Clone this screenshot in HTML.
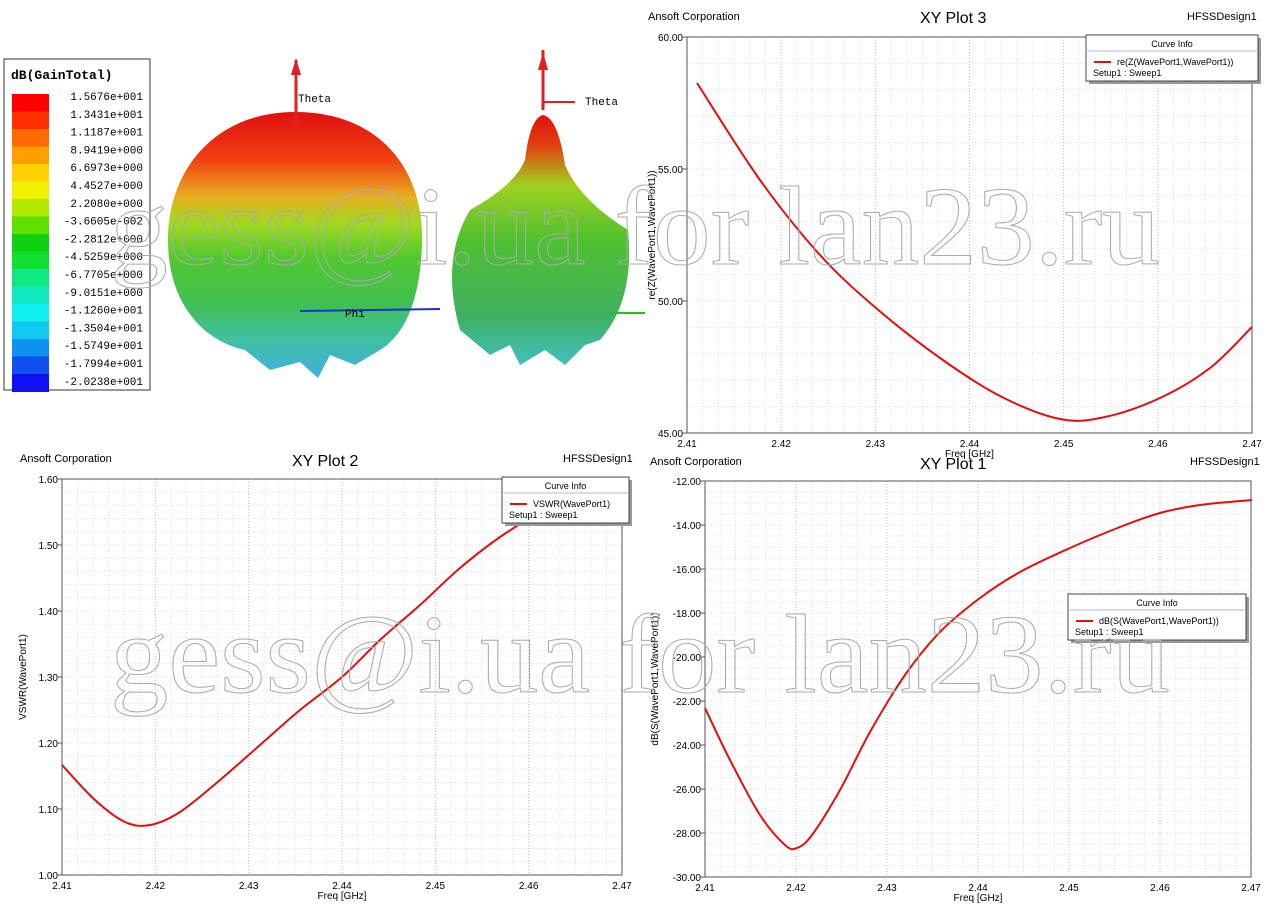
<!DOCTYPE html>
<html><head><meta charset="utf-8"><style>
body{margin:0;width:1280px;height:915px;background:#fff;overflow:hidden;font-family:"Liberation Sans",sans-serif}
svg{position:absolute;left:0;top:0}
</style></head><body>
<svg id="s" width="1280" height="915" xmlns="http://www.w3.org/2000/svg" font-family="Liberation Sans, sans-serif">
<defs>
<linearGradient id="g1" x1="0" y1="0" x2="0" y2="1">
<stop offset="0" stop-color="#e01010"/><stop offset="0.18" stop-color="#f04010"/><stop offset="0.32" stop-color="#e8b020"/>
<stop offset="0.42" stop-color="#a0d820"/><stop offset="0.55" stop-color="#50c830"/><stop offset="0.72" stop-color="#40c050"/><stop offset="0.85" stop-color="#40c0a0"/><stop offset="1" stop-color="#40b0e0"/></linearGradient>
<linearGradient id="g2" x1="0" y1="0" x2="0" y2="1">
<stop offset="0" stop-color="#e01010"/><stop offset="0.12" stop-color="#e04010"/><stop offset="0.28" stop-color="#a0d020"/>
<stop offset="0.5" stop-color="#50c030"/><stop offset="0.8" stop-color="#40b060"/><stop offset="1" stop-color="#40c0c0"/></linearGradient>
</defs>
<g id="grid"></g>
<rect x="4" y="59" width="146" height="331" fill="#fff" stroke="#333"/>
<text x="11" y="79" font-family="Liberation Mono, monospace" font-size="13" font-weight="bold">dB(GainTotal)</text>
<g id="bar"></g>
<path d="M295,112 C380,112 425,170 422,245 C420,300 405,335 380,350 L355,365 L330,355 L318,378 L300,362 L270,370 L245,350 C200,340 168,300 168,240 C168,170 215,112 295,112 Z" fill="url(#g1)"/>
<line x1="296" y1="60" x2="296" y2="130" stroke="#e02020" stroke-width="3"/>
<polygon points="291,75 296,58 301,75" fill="#e02020"/>
<text x="298" y="102" font-family="Liberation Mono, monospace" font-size="11">Theta</text>
<line x1="300" y1="311" x2="440" y2="309" stroke="#2030d0" stroke-width="2"/>
<text x="345" y="317" font-family="Liberation Mono, monospace" font-size="11">Phi</text>
<path d="M543,115 Q530,118 525,160 Q515,185 470,210 Q440,260 460,330 L490,355 L510,345 L520,365 L545,350 L565,365 L585,345 L600,340 Q635,300 628,230 Q580,200 565,165 Q558,118 543,115 Z" fill="url(#g2)"/>
<line x1="543" y1="50" x2="543" y2="110" stroke="#e02020" stroke-width="3"/>
<polygon points="538,70 543,52 548,70" fill="#e02020"/>
<line x1="543" y1="102" x2="575" y2="102" stroke="#e02020" stroke-width="2"/>
<text x="585" y="105" font-family="Liberation Mono, monospace" font-size="11">Theta</text>
<line x1="610" y1="313" x2="645" y2="313" stroke="#20c020" stroke-width="2"/>
<g font-size="11" fill="#000">
<text x="648" y="20">Ansoft Corporation</text><text x="1187" y="20">HFSSDesign1</text>
<text x="20" y="462">Ansoft Corporation</text><text x="563" y="462">HFSSDesign1</text>
<text x="650" y="465">Ansoft Corporation</text><text x="1190" y="465">HFSSDesign1</text>
</g>
<g font-size="16"><text x="920" y="23">XY Plot 3</text><text x="292" y="466">XY Plot 2</text><text x="920" y="469">XY Plot 1</text></g>
<g fill="none" stroke="#e01010" stroke-width="2" id="curves"></g>
<g id="leg"></g>
<g font-family="Liberation Serif, serif" font-size="112" fill="none" stroke="#aaa" stroke-width="1">
<text x="110" y="264" textLength="1050" lengthAdjust="spacingAndGlyphs">gess@i.ua for lan23.ru</text>
<text x="110" y="692" textLength="1060" lengthAdjust="spacingAndGlyphs">gess@i.ua for lan23.ru</text>
</g>
</svg>
<script>
var s=document.getElementById('grid'),h='';
function plot(x0,y0,x1,y1,ny,ylab,ytx,ytitle){
  var w=x1-x0;
  for(var i=0;i<=36;i++){var x=x0+w*i/36;h+='<line x1="'+x+'" y1="'+y0+'" x2="'+x+'" y2="'+y1+'" stroke="'+(i%6==0?'#bbb':'#ddd')+'" stroke-dasharray="1,2"/>';}
  for(var j=0;j<=ny;j++){var y=y1-(y1-y0)*j/ny;h+='<line x1="'+x0+'" y1="'+y+'" x2="'+x1+'" y2="'+y+'" stroke="#ddd" stroke-dasharray="1,2"/>';}
  h+='<rect x="'+x0+'" y="'+y0+'" width="'+w+'" height="'+(y1-y0)+'" fill="none" stroke="#555"/>';
  for(var i=0;i<=6;i++){var x=x0+w*i/6;h+='<text x="'+x+'" y="'+(y1+14)+'" font-size="10" text-anchor="middle">'+(2.41+i*0.01).toFixed(2)+'</text>';}
  for(var k=0;k<ylab.length;k++){var y=y1-(y1-y0)*k/(ylab.length-1);h+='<text x="'+(x0-4)+'" y="'+(y+4)+'" font-size="10" text-anchor="end">'+ylab[k]+'</text><line x1="'+(x0-5)+'" y1="'+y+'" x2="'+x0+'" y2="'+y+'" stroke="#555"/>';}
  h+='<text x="'+((x0+x1)/2)+'" y="'+(y1+24)+'" font-size="10" text-anchor="middle">Freq [GHz]</text>';
  h+='<text transform="translate('+ytx+','+((y0+y1)/2)+') rotate(-90)" font-size="10" text-anchor="middle">'+ytitle+'</text>';
}
plot(687,37,1252,433,15,['45.00','50.00','55.00','60.00'],655,'re(Z(WavePort1,WavePort1))');
plot(62,479,622,875,30,['1.00','1.10','1.20','1.30','1.40','1.50','1.60'],26,'VSWR(WavePort1)');
plot(705,481,1251,877,36,['-30.00','-28.00','-26.00','-24.00','-22.00','-20.00','-18.00','-16.00','-14.00','-12.00'],658,'dB(S(WavePort1,WavePort1))');
s.innerHTML=h;
function cr(p){var d='M'+p[0][0]+','+p[0][1];for(var i=0;i<p.length-1;i++){var a=p[i-1]||p[i],b=p[i],c=p[i+1],e=p[i+2]||c;d+=' C'+(b[0]+(c[0]-a[0])/6)+','+(b[1]+(c[1]-a[1])/6)+' '+(c[0]-(e[0]-b[0])/6)+','+(c[1]-(e[1]-b[1])/6)+' '+c[0]+','+c[1];}return '<path d="'+d+'"/>';}
document.getElementById('curves').innerHTML=
cr([[697,83],[760,180],[820,255],[876,308],[940,358],[1000,396],[1060,419],[1105,417],[1160,398],[1210,368],[1252,327]])+
cr([[62,765],[95,800],[125,822],[150,825],[180,812],[220,780],[260,745],[300,710],[342,677],[380,640],[420,605],[460,568],[500,537],[540,512],[565,497]])+
cr([[705,708],[730,760],[760,815],[785,845],[797,848],[812,835],[840,790],[870,732],[905,675],[940,632],[980,598],[1020,572],[1070,548],[1120,527],[1160,513],[1200,505],[1252,500]]);
var b='',cols=['#ff0000','#ff3000','#ff6a00','#ffa000','#ffd000','#f0f000','#b0e800','#60e000','#10d010','#10e030','#10e880','#10e8c0','#10f0f0','#10c8f0','#1090f0','#1050f0','#1010f0'];
var labs=['1.5676e+001','1.3431e+001','1.1187e+001','8.9419e+000','6.6973e+000','4.4527e+000','2.2080e+000','-3.6605e-002','-2.2812e+000','-4.5259e+000','-6.7705e+000','-9.0151e+000','-1.1260e+001','-1.3504e+001','-1.5749e+001','-1.7994e+001','-2.0238e+001'];
for(var i=0;i<17;i++){b+='<rect x="12" y="'+(94+i*17.5)+'" width="37" height="18" fill="'+cols[i]+'"/><text x="143" y="'+(100+i*17.8)+'" font-family="Liberation Mono, monospace" font-size="11" text-anchor="end">'+labs[i]+'</text>';}
document.getElementById('bar').innerHTML=b;
function leg(x,y,w,t){return '<rect x="'+(x+3)+'" y="'+(y+3)+'" width="'+w+'" height="46" fill="#999"/><rect x="'+x+'" y="'+y+'" width="'+w+'" height="46" fill="#fff" stroke="#444"/><line x1="'+x+'" y1="'+(y+16)+'" x2="'+(x+w)+'" y2="'+(y+16)+'" stroke="#bbb"/><text x="'+(x+w/2)+'" y="'+(y+12)+'" font-size="9" text-anchor="middle">Curve Info</text><line x1="'+(x+8)+'" y1="'+(y+27)+'" x2="'+(x+25)+'" y2="'+(y+27)+'" stroke="#e01010" stroke-width="2"/><text x="'+(x+31)+'" y="'+(y+30)+'" font-size="9">'+t+'</text><text x="'+(x+7)+'" y="'+(y+41)+'" font-size="9">Setup1 : Sweep1</text>';}
document.getElementById('leg').innerHTML=leg(1086,35,172,'re(Z(WavePort1,WavePort1))')+leg(502,477,127,'VSWR(WavePort1)')+leg(1068,594,178,'dB(S(WavePort1,WavePort1))');
</script>
</body></html>
